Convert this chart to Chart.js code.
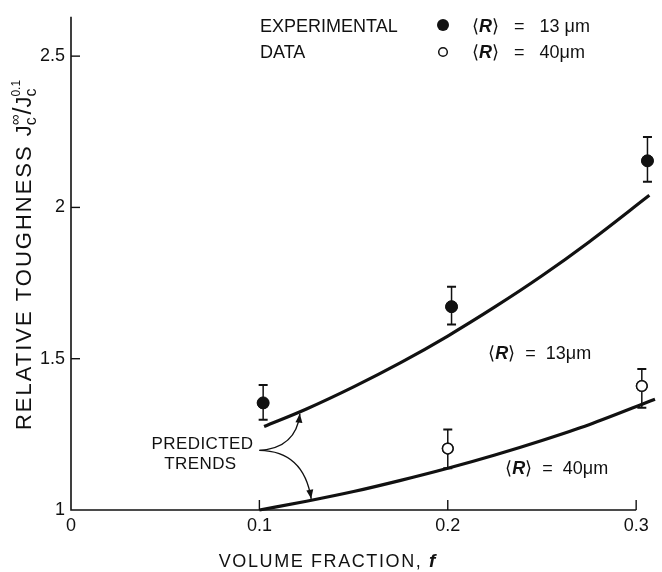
<!DOCTYPE html>
<html>
<head>
<meta charset="utf-8">
<script src="https://cdn.jsdelivr.net/npm/chart.js@4/dist/chart.umd.min.js"></script>
<style>
html,body{margin:0;padding:0;background:#fff;}
#wrap{width:662px;height:572px;position:relative;}
</style>
</head>
<body>
<div id="wrap"><canvas id="c" width="662" height="572"></canvas></div>
<script>
// ---- data ----
const xTickValues = [0, 0.1, 0.2, 0.3];
const yTickValues = [1, 1.5, 2, 2.5];

// experimental data, <R> = 13 um (filled)
const filledX = [0.102, 0.202, 0.306];
const filledY = [1.354, 1.672, 2.154];
const filledLow = [1.298, 1.613, 2.085];
const filledHigh = [1.413, 1.738, 2.233];

// experimental data, <R> = 40 um (open)
const openX = [0.200, 0.303];
const openY = [1.203, 1.410];
const openLow = [1.138, 1.338];
const openHigh = [1.266, 1.466];

// predicted trends
const trend13X = [0.1025, 0.125, 0.150, 0.175, 0.200, 0.225, 0.250, 0.275, 0.307];
const trend13Y = [1.276, 1.334, 1.407, 1.487, 1.575, 1.671, 1.774, 1.886, 2.040];
const trend40X = [0.100, 0.125, 0.150, 0.175, 0.200, 0.225, 0.250, 0.275, 0.310];
const trend40Y = [1.000, 1.029, 1.061, 1.098, 1.138, 1.182, 1.230, 1.282, 1.366];

const zip = (xs, ys) => xs.map((x, i) => ({x: x, y: ys[i]}));

const INK = '#111';
const FONT = '"Liberation Sans", Arial, sans-serif';

function richText(ctx, parts, x, y, align) {
  let w = 0;
  const widths = [];
  parts.forEach((p, i) => {
    ctx.font = (p.style || '') + ' ' + p.size + 'px ' + FONT;
    ctx.letterSpacing = (p.ls || 0) + 'px';
    const pw = ctx.measureText(p.t).width;
    widths.push(pw);
    if (p.stack) {
      w += Math.max(0, pw - widths[i - 1]);
    } else w += pw;
  });
  let cx = align === 'center' ? x - w / 2 : (align === 'right' ? x - w : x);
  let lastX = cx, lastW = 0;
  parts.forEach((p, i) => {
    ctx.font = (p.style || '') + ' ' + p.size + 'px ' + FONT;
    ctx.letterSpacing = (p.ls || 0) + 'px';
    ctx.textAlign = 'left';
    ctx.textBaseline = 'alphabetic';
    if (p.stack) {
      ctx.fillText(p.t, lastX, y + (p.dy || 0));
      cx = lastX + Math.max(lastW, widths[i]);
      lastW = Math.max(lastW, widths[i]);
    } else {
      ctx.fillText(p.t, cx, y + (p.dy || 0));
      lastX = cx; lastW = widths[i];
      cx += widths[i];
    }
  });
  ctx.letterSpacing = '0px';
}

function arrowHead(ctx, x0, y0, x1, y1) {
  const a = Math.atan2(y1 - y0, x1 - x0);
  const L = 9, W = 3.5;
  ctx.beginPath();
  ctx.moveTo(x1, y1);
  ctx.lineTo(x1 - L * Math.cos(a) + W * Math.sin(a), y1 - L * Math.sin(a) - W * Math.cos(a));
  ctx.lineTo(x1 - L * Math.cos(a) - W * Math.sin(a), y1 - L * Math.sin(a) + W * Math.cos(a));
  ctx.closePath();
  ctx.fill();
}

const decor = {
  id: 'decor',
  beforeDatasetsDraw(chart) {
    const ctx = chart.ctx, xs = chart.scales.x, ys = chart.scales.y;
    const ca = chart.chartArea;
    ctx.save();
    ctx.strokeStyle = INK; ctx.fillStyle = INK;
    ctx.lineWidth = 1.6;
    const x0 = xs.getPixelForValue(0), y0 = ys.getPixelForValue(1);
    ctx.beginPath();
    ctx.moveTo(x0, ca.top); ctx.lineTo(x0, y0);
    ctx.lineTo(xs.getPixelForValue(0.3), y0);
    ctx.stroke();
    ctx.lineWidth = 1.4;
    yTickValues.forEach(v => {
      if (v === 1) return;
      const py = ys.getPixelForValue(v);
      ctx.beginPath(); ctx.moveTo(x0, py); ctx.lineTo(x0 + 9, py); ctx.stroke();
    });
    xTickValues.forEach(v => {
      if (v === 0) return;
      const px = xs.getPixelForValue(v);
      ctx.beginPath(); ctx.moveTo(px, y0); ctx.lineTo(px, y0 - 10); ctx.stroke();
    });
    ctx.restore();
  },
  afterDatasetsDraw(chart) {
    const ctx = chart.ctx, xs = chart.scales.x, ys = chart.scales.y;
    const P = (x, y) => [xs.getPixelForValue(x), ys.getPixelForValue(y)];
    ctx.save();
    ctx.strokeStyle = INK; ctx.fillStyle = INK;
    function errs(X, L, H) {
      X.forEach((x, i) => {
        const px = xs.getPixelForValue(x);
        const pl = ys.getPixelForValue(L[i]), ph = ys.getPixelForValue(H[i]);
        ctx.lineWidth = 1.5;
        ctx.beginPath(); ctx.moveTo(px, pl); ctx.lineTo(px, ph); ctx.stroke();
        ctx.lineWidth = 2;
        ctx.beginPath();
        ctx.moveTo(px - 4.5, pl); ctx.lineTo(px + 4.5, pl);
        ctx.moveTo(px - 4.5, ph); ctx.lineTo(px + 4.5, ph);
        ctx.stroke();
      });
    }
    errs(filledX, filledLow, filledHigh);
    errs(openX, openLow, openHigh);
    filledX.forEach((x, i) => {
      const [px, py] = P(x, filledY[i]);
      ctx.beginPath(); ctx.arc(px, py, 6, 0, Math.PI * 2); ctx.fill();
    });
    openX.forEach((x, i) => {
      const [px, py] = P(x, openY[i]);
      ctx.beginPath(); ctx.arc(px, py, 5.3, 0, Math.PI * 2);
      ctx.fillStyle = '#fff'; ctx.fill();
      ctx.lineWidth = 1.5; ctx.stroke();
      ctx.fillStyle = INK;
    });

    // axis titles
    ctx.fillStyle = INK;
    ctx.save();
    ctx.translate(31, 255);
    ctx.rotate(-Math.PI / 2);
    richText(ctx, [
      {t: 'RELATIVE TOUGHNESS ', size: 22, ls: 2},
      {t: 'J', size: 22},
      {t: 'c', size: 16, dy: 5},
      {t: '∞', size: 15, dy: -11, stack: true},
      {t: '/', size: 25},
      {t: 'J', size: 22},
      {t: 'c', size: 16, dy: 5},
      {t: '0.1', size: 12, dy: -11, stack: true}
    ], 0, 0, 'center');
    ctx.restore();

    richText(ctx, [
      {t: 'VOLUME FRACTION, ', size: 18, ls: 1.6},
      {t: 'f', size: 19, style: 'italic bold'}
    ], 327, 567, 'center');

    // legend
    richText(ctx, [{t: 'EXPERIMENTAL', size: 18}], 260, 32, 'left');
    richText(ctx, [{t: 'DATA', size: 18}], 260, 58, 'left');
    ctx.beginPath(); ctx.arc(443, 25, 6, 0, Math.PI * 2); ctx.fill();
    ctx.beginPath(); ctx.arc(443, 52, 4.3, 0, Math.PI * 2); ctx.lineWidth = 1.5; ctx.stroke();
    const rParts = (val, gap) => [
      {t: '⟨', size: 18},
      {t: 'R', size: 18, style: 'italic bold'},
      {t: '⟩' + gap + '=' + gap + val, size: 18},
      {t: 'μ', size: 18},
      {t: 'm', size: 18}
    ];
    richText(ctx, rParts('13 ', '   '), 472, 32, 'left');
    richText(ctx, rParts('40', '   '), 472, 58, 'left');

    // curve labels
    const [lx1, ly1] = P(0.2215, 1.50);
    richText(ctx, rParts('13', '  '), lx1, ly1, 'left');
    const [lx2, ly2] = P(0.2305, 1.118);
    richText(ctx, rParts('40', '  '), lx2, ly2, 'left');

    // predicted trends annotation
    const [tx, ty] = P(0.0995, 1.197);
    richText(ctx, [{t: 'PREDICTED', size: 17, ls: 0.4}], tx - 5, ty - 1, 'right');
    richText(ctx, [{t: 'TRENDS', size: 17, ls: 0.4}], tx - 58, ty + 19, 'center');
    const [ax0, ay0] = P(0.1, 1.197);
    const [c1x, c1y] = P(0.1195, 1.205);
    const [e1x, e1y] = P(0.1215, 1.318);
    const [c2x, c2y] = P(0.1235, 1.195);
    const [e2x, e2y] = P(0.1275, 1.037);
    ctx.lineWidth = 1.4;
    ctx.beginPath(); ctx.moveTo(ax0, ay0); ctx.quadraticCurveTo(c1x, c1y, e1x, e1y); ctx.stroke();
    arrowHead(ctx, c1x, c1y, e1x, e1y);
    ctx.beginPath(); ctx.moveTo(ax0, ay0); ctx.quadraticCurveTo(c2x, c2y, e2x, e2y); ctx.stroke();
    arrowHead(ctx, c2x, c2y, e2x, e2y);
    ctx.restore();
  }
};

new Chart(document.getElementById('c'), {
  type: 'line',
  data: {
    datasets: [
      {data: zip(trend13X, trend13Y), borderColor: INK, borderWidth: 3.2, pointRadius: 0, cubicInterpolationMode: 'monotone', fill: false},
      {data: zip(trend40X, trend40Y), borderColor: INK, borderWidth: 3.2, pointRadius: 0, cubicInterpolationMode: 'monotone', fill: false},
      {data: zip(filledX, filledY), showLine: false, pointRadius: 6, pointBackgroundColor: INK, pointBorderColor: INK},
      {data: zip(openX, openY), showLine: false, pointRadius: 5.3, pointBackgroundColor: '#fff', pointBorderColor: INK, pointBorderWidth: 1.5}
    ]
  },
  options: {
    responsive: false,
    animation: false,
    layout: {padding: {top: 13, right: 0, left: 0, bottom: 0}},
    plugins: {legend: {display: false}, tooltip: {enabled: false}, title: {display: false}},
    clip: false,
    scales: {
      x: {
        type: 'linear', min: 0, max: 0.31,
        afterBuildTicks: s => { s.ticks = xTickValues.map(v => ({value: v})); },
        afterFit: s => { s.height = 62; },
        grid: {display: false, drawTicks: false},
        border: {display: false},
        ticks: {font: {size: 18, family: FONT}, color: INK, padding: 5, maxRotation: 0, autoSkip: false,
                callback: v => String(v)}
      },
      y: {
        type: 'linear', min: 1, max: 2.63,
        afterBuildTicks: s => { s.ticks = yTickValues.map(v => ({value: v})); },
        afterFit: s => { s.width = 71; },
        grid: {display: false, drawTicks: false},
        border: {display: false},
        ticks: {font: {size: 18, family: FONT}, color: INK, padding: 6, autoSkip: false,
                callback: v => String(v)}
      }
    }
  },
  plugins: [decor]
});
</script>
</body>
</html>
